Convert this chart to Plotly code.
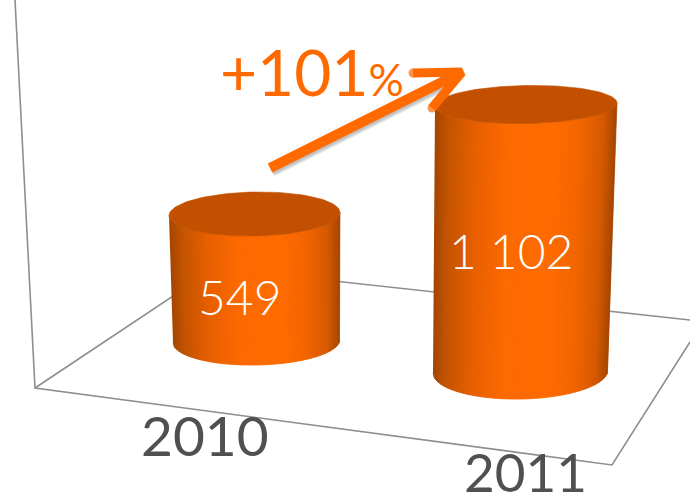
import numpy as np
import plotly.graph_objects as go

years = ["2010", "2011"]
values = [549, 1102]
value_labels = ["549", "1\u00a0102"]
growth_label = "+101"
growth_suffix = "%"

ORANGE = "#ff6a00"
TOP = "#c25000"
GRID = "#8e8e8e"
TXT = "#505050"

# Pseudo-3D projection of each cylinder on the canvas
base_cx = [256.5, 520.5]
base_cy = [341.0, 371.5]
base_rx = [83.5, 87.5]
base_ry = [24.0, 27.5]
top_dx = [-2.0, 5.5]
top_rx = [85.5, 91.0]
top_ry = [22.0, 19.0]
px_per_unit = [0.2313, 0.2423]
tilt = [-1.5, -1.5]

stops_u = [-1.0, -0.85, -0.55, -0.2, 0.3, 0.6, 0.85, 1.0]
stops_r = [0xa4, 0xc4, 0xe8, 0xfc, 0xff, 0xf2, 0xd6, 0xa4]
stops_g = [0x46, 0x54, 0x60, 0x6a, 0x6c, 0x66, 0x5a, 0x46]
stops_b = [0x00, 0x00, 0x00, 0x00, 0x00, 0x00, 0x00, 0x00]

fig = go.Figure()


def add_line(xs, ys, color=GRID, width=1.6):
    fig.add_trace(go.Scatter(x=xs, y=ys, mode="lines", line=dict(color=color, width=width),
                             hoverinfo="skip", showlegend=False))


def add_poly(xs, ys, color):
    fig.add_trace(go.Scatter(x=xs, y=ys, mode="lines", fill="toself", fillcolor=color,
                             line=dict(color=color, width=0.6),
                             hoverinfo="skip", showlegend=False))


# Floor and wall lines
add_line([15, 35, 612, 690], [0, 388, 465, 342])
add_line([35, 215, 690], [388, 268, 320])

# Cylinders
N = 100
for i in range(len(values)):
    b_cy, b_cx = base_cy[i], base_cx[i]
    t_cy = b_cy - px_per_unit[i] * values[i]
    t_cx = b_cx + top_dx[i]
    edges = np.linspace(-1, 1, N + 1)
    for j in range(N):
        u = np.linspace(edges[j], min(edges[j + 1] + 0.012, 1), 4)
        mid = (edges[j] + edges[j + 1]) / 2
        r, g, b = (int(np.interp(mid, stops_u, s)) for s in (stops_r, stops_g, stops_b))
        arc = np.sqrt(np.clip(1 - u ** 2, 0, 1))
        xt = t_cx + top_rx[i] * u
        yt = t_cy + tilt[i] * u + top_ry[i] * arc
        xb = b_cx + base_rx[i] * u
        yb = b_cy + tilt[i] * u + base_ry[i] * arc
        add_poly(np.r_[xt, xb[::-1]], np.r_[yt, yb[::-1]], f"rgb({r},{g},{b})")
    a = np.linspace(0, 2 * np.pi, 121)
    add_poly(t_cx + top_rx[i] * np.cos(a),
             t_cy + tilt[i] * np.cos(a) + top_ry[i] * np.sin(a), TOP)

# Growth arrow, with its soft shadow
arrow_shaft_x = [270, 452]
arrow_shaft_y = [168, 77]
arrow_head_x = [413, 462, 432]
arrow_head_y = [73, 72, 108]
for off, col, w in [(3, "rgba(90,90,90,0.22)", 11), (2, "rgba(90,90,90,0.18)", 10)]:
    add_line([v + off - 1 for v in arrow_shaft_x], [v + off for v in arrow_shaft_y], col, w)
add_line(arrow_shaft_x, arrow_shaft_y, ORANGE, 10)
fig.add_trace(go.Scatter(x=arrow_head_x, y=arrow_head_y, mode="lines+markers",
                         line=dict(color=ORANGE, width=9),
                         marker=dict(color=ORANGE, size=[9, 0, 9], line=dict(width=0)),
                         hoverinfo="skip", showlegend=False))

font_family = "Lato"


def label(text, x, y, size, color, weight=400):
    return dict(text=text, x=x, y=y, xref="x", yref="y", xanchor="center", yanchor="middle",
                showarrow=False, font=dict(family=font_family, weight=weight, size=size, color=color))


axis = dict(visible=False, showgrid=False, zeroline=False, fixedrange=True)
fig.update_layout(
    width=690, height=495, margin=dict(l=0, r=0, t=0, b=0),
    paper_bgcolor="white", plot_bgcolor="white", showlegend=False,
    xaxis=dict(axis, range=[0, 690]),
    yaxis=dict(axis, range=[495, 0]),
    annotations=[
        label(value_labels[0], 240, 296, 48, "white", 300),
        label(value_labels[1], 511, 250, 48, "white", 300),
        label(years[0], 205, 435, 55, TXT),
        label(years[1], 525, 471, 53, TXT),
        label(f'{growth_label}<span style="font-size:44px">{growth_suffix}</span>', 312, 71, 64, ORANGE),
    ],
)
fig.write_html("out.html", post_script="document.body.style.margin='0';",
               config={"displayModeBar": False})
